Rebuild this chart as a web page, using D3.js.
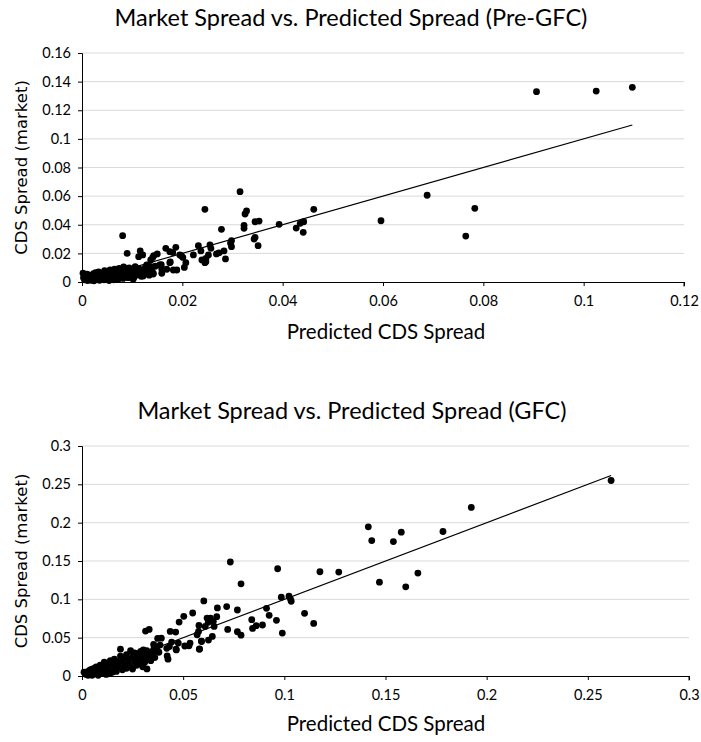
<!DOCTYPE html>
<html>
<head>
<meta charset="utf-8">
<script src="https://cdn.jsdelivr.net/npm/d3@7"></script>
<style>
  body { margin: 0; background: #fff; }
  .tick text { font-family: Lato, sans-serif; font-size: 14.5px; fill: #000; }
  .title, .xlabel { font-family: Lato, sans-serif; fill: #000; }
  .ylabel { font-family: "DejaVu Sans", sans-serif; fill: #000; }
</style>
</head>
<body>
<div id="chart"></div>
<script>
// Pre-GFC: [predicted, market]
var preGfcPoints = [
  [0.0906, 0.133], [0.1025, 0.1334], [0.1097, 0.136],
  [0.0688, 0.0606], [0.0783, 0.0515], [0.0765, 0.0321], [0.0596, 0.0428],
  [0.0462, 0.0508], [0.0442, 0.0421], [0.0435, 0.041], [0.0427, 0.0377], [0.0441, 0.0347], [0.0393, 0.0403],
  [0.0353, 0.0426], [0.0345, 0.0421], [0.0345, 0.0312], [0.0351, 0.0254], [0.0343, 0.0300],
  [0.0315, 0.0631], [0.0328, 0.0496], [0.0325, 0.0475], [0.0323, 0.0396], [0.0323, 0.0375],
  [0.0278, 0.0368], [0.0245, 0.0508],
  [0.0298, 0.0289], [0.0296, 0.0272], [0.0298, 0.0247], [0.0286, 0.0161], [0.0283, 0.0217], [0.0273, 0.0203], [0.0268, 0.0196],
  [0.0257, 0.0235], [0.0255, 0.0259], [0.0232, 0.0254], [0.0237, 0.0217], [0.0239, 0.0154], [0.0247, 0.0165], [0.0245, 0.0135], [0.0252, 0.0189], [0.0247, 0.0142],
  [0.0222, 0.0189], [0.0207, 0.0135], [0.0204, 0.0102], [0.0201, 0.0172], [0.0195, 0.0189], [0.0198, 0.0184],
  [0.0187, 0.0242], [0.0181, 0.0205], [0.0175, 0.0212], [0.0167, 0.0235], [0.0176, 0.0140], [0.0175, 0.0135],
  [0.0159, 0.0091], [0.0150, 0.0196], [0.0143, 0.0184], [0.0141, 0.0172], [0.0137, 0.0154], [0.0158, 0.0121], [0.0136, 0.0109],
  [0.0121, 0.0189], [0.0116, 0.0217], [0.0113, 0.0177], [0.0081, 0.0324], [0.0090, 0.0200], [0.0102, 0.0019],
  [0.0129, 0.0119], [0.0139, 0.0096], [0.0155, 0.0119], [0.0159, 0.0061], [0.0169, 0.0089], [0.0182, 0.0084], [0.0189, 0.0084], [0.0142, 0.0056], [0.0122, 0.0042],
  [0.0002, 0.0062], [0.0003, 0.0030], [0.0005, 0.0015], [0.0006, 0.0045], [0.0008, 0.0025], [0.0010, 0.0055], [0.0011, 0.0010], [0.0012, 0.0035],
  [0.0014, 0.0020], [0.0015, 0.0048], [0.0017, 0.0030], [0.0018, 0.0012], [0.0020, 0.0040], [0.0021, 0.0022], [0.0023, 0.0058], [0.0024, 0.0008],
  [0.0026, 0.0033], [0.0027, 0.0065], [0.0029, 0.0018], [0.0030, 0.0045], [0.0032, 0.0028], [0.0033, 0.0070], [0.0035, 0.0012], [0.0036, 0.0050],
  [0.0038, 0.0035], [0.0039, 0.0022], [0.0041, 0.0062], [0.0042, 0.0040], [0.0044, 0.0015], [0.0045, 0.0080], [0.0047, 0.0030], [0.0048, 0.0055],
  [0.0050, 0.0020], [0.0051, 0.0068], [0.0053, 0.0042], [0.0054, 0.0010], [0.0056, 0.0085], [0.0057, 0.0050], [0.0059, 0.0028], [0.0060, 0.0072],
  [0.0062, 0.0038], [0.0063, 0.0015], [0.0065, 0.0090], [0.0066, 0.0060], [0.0068, 0.0032], [0.0069, 0.0078], [0.0071, 0.0045], [0.0072, 0.0020],
  [0.0074, 0.0095], [0.0075, 0.0058], [0.0077, 0.0036], [0.0078, 0.0082], [0.0080, 0.0050], [0.0082, 0.0025], [0.0083, 0.0105], [0.0085, 0.0068],
  [0.0087, 0.0040], [0.0088, 0.0090], [0.0090, 0.0055], [0.0092, 0.0030], [0.0094, 0.0098], [0.0096, 0.0072], [0.0098, 0.0045], [0.0100, 0.0088],
  [0.0102, 0.0060], [0.0104, 0.0035], [0.0106, 0.0108], [0.0108, 0.0078], [0.0110, 0.0050], [0.0113, 0.0095], [0.0115, 0.0065], [0.0118, 0.0040],
  [0.0120, 0.0085], [0.0123, 0.0055], [0.0126, 0.0100], [0.0130, 0.0070], [0.0134, 0.0048], [0.0138, 0.0090], [0.0142, 0.0062], [0.0146, 0.0110]
];

// GFC: [predicted, market]
var gfcPoints = [
  [0.2615, 0.255], [0.1924, 0.2199], [0.1784, 0.1885], [0.1415, 0.1946], [0.1432, 0.1767], [0.1578, 0.1876], [0.1539, 0.1753],
  [0.147, 0.1224], [0.166, 0.1342], [0.16, 0.1163], [0.1269, 0.1356], [0.1176, 0.136], [0.0967, 0.1399], [0.0733, 0.1487], [0.0786, 0.1202],
  [0.0985, 0.1028], [0.1023, 0.1041], [0.1034, 0.0975], [0.103, 0.1006], [0.11, 0.0818], [0.1145, 0.0686], [0.0912, 0.0883], [0.0925, 0.0791],
  [0.0961, 0.0726], [0.099, 0.056], [0.0892, 0.0665], [0.0861, 0.0656], [0.0839, 0.0735], [0.0843, 0.0621], [0.0786, 0.0533], [0.0768, 0.0577],
  [0.0768, 0.0861], [0.0715, 0.0905], [0.072, 0.0608],
  [0.0669, 0.0888], [0.0666, 0.0774], [0.0653, 0.0647], [0.0644, 0.0516], [0.0649, 0.0713], [0.0635, 0.0756], [0.0618, 0.0756], [0.0624, 0.07],
  [0.0609, 0.0647], [0.0602, 0.0979], [0.0578, 0.066], [0.0576, 0.0582], [0.0591, 0.045], [0.0569, 0.0538], [0.058, 0.035], [0.0547, 0.0822],
  [0.0534, 0.0429], [0.0529, 0.0394], [0.0503, 0.0778], [0.048, 0.0704], [0.0476, 0.0429], [0.0465, 0.035], [0.0463, 0.0573], [0.0436, 0.0582],
  [0.0443, 0.0442], [0.0432, 0.0385], [0.0421, 0.0262], [0.0425, 0.0219], [0.0392, 0.0494], [0.0374, 0.049], [0.037, 0.0376], [0.0354, 0.0411],
  [0.0343, 0.0275], [0.0332, 0.0608], [0.0314, 0.0586], [0.0321, 0.0092], [0.0303, 0.0341], [0.0294, 0.0275], [0.0281, 0.024],
  [0.0625, 0.0469], [0.0590, 0.0456], [0.0581, 0.0352], [0.0508, 0.0391], [0.0466, 0.034], [0.0386, 0.0404], [0.0353, 0.0339], [0.0419, 0.0361],
  [0.001, 0.005], [0.002, 0.002], [0.003, 0.006], [0.004, 0.003], [0.005, 0.009], [0.005, 0.001], [0.006, 0.005], [0.007, 0.012],
  [0.007, 0.003], [0.008, 0.008], [0.009, 0.004], [0.009, 0.014], [0.010, 0.010], [0.011, 0.006], [0.011, 0.018], [0.012, 0.002],
  [0.012, 0.013], [0.013, 0.008], [0.014, 0.020], [0.014, 0.004], [0.015, 0.015], [0.016, 0.010], [0.016, 0.022], [0.017, 0.006],
  [0.018, 0.017], [0.018, 0.012], [0.019, 0.035], [0.019, 0.026], [0.020, 0.008], [0.020, 0.020], [0.021, 0.014], [0.022, 0.028],
  [0.022, 0.010], [0.023, 0.022], [0.023, 0.017], [0.024, 0.033], [0.024, 0.012], [0.025, 0.025], [0.026, 0.019], [0.026, 0.030],
  [0.027, 0.014], [0.027, 0.024], [0.028, 0.020], [0.029, 0.032], [0.029, 0.016], [0.030, 0.027], [0.031, 0.022], [0.031, 0.018],
  [0.032, 0.033], [0.033, 0.026], [0.034, 0.020], [0.035, 0.030], [0.036, 0.024], [0.038, 0.031],
  [0.003, 0.001], [0.004, 0.008], [0.006, 0.010], [0.008, 0.001], [0.010, 0.003], [0.013, 0.016], [0.015, 0.005], [0.017, 0.019],
  [0.021, 0.024], [0.025, 0.009], [0.028, 0.029], [0.030, 0.012]
];

var preGfcXTicks = [0, 0.02, 0.04, 0.06, 0.08, 0.1, 0.12];
var preGfcYTicks = [0, 0.02, 0.04, 0.06, 0.08, 0.1, 0.12, 0.14, 0.16];
var gfcXTicks = [0, 0.05, 0.1, 0.15, 0.2, 0.25, 0.3];
var gfcYTicks = [0, 0.05, 0.1, 0.15, 0.2, 0.25, 0.3];

var svg = d3.select('#chart').append('svg')
  .attr('width', 701)
  .attr('height', 742);

function drawChart(cfg) {
  var x = d3.scaleLinear()
    .domain([0, d3.max(cfg.xTicks)])
    .range([cfg.left, cfg.right]);
  var y = d3.scaleLinear()
    .domain([0, d3.max(cfg.yTicks)])
    .range([cfg.bottom, cfg.top]);
  var g = svg.append('g');

  // gridlines
  g.selectAll('line.grid')
    .data(cfg.yTicks.slice(1))
    .enter().append('line')
    .attr('class', 'grid')
    .attr('x1', cfg.left)
    .attr('x2', cfg.right)
    .attr('y1', function (d) { return y(d); })
    .attr('y2', function (d) { return y(d); })
    .style('stroke', '#d9d9d9')
    .style('stroke-width', 1);

  var yAxis = g.append('g')
    .attr('transform', 'translate(' + cfg.left + ',0)')
    .call(d3.axisLeft(y).tickValues(cfg.yTicks).tickSize(4).tickPadding(7)
      .tickFormat(function (d) { return String(d); }));
  var xAxis = g.append('g')
    .attr('transform', 'translate(0,' + cfg.bottom + ')')
    .call(d3.axisBottom(x).tickValues(cfg.xTicks).tickSize(4).tickPadding(10)
      .tickFormat(function (d) { return String(d); }));
  [xAxis, yAxis].forEach(function (a) {
    a.select('.domain').style('stroke', '#000');
    a.selectAll('.tick line').style('stroke', '#000');
  });
  xAxis.select('.domain').attr('d', 'M' + cfg.left + ',0.5H' + cfg.right + 'V4.5');

  // 45 degree reference line
  var lo = d3.min(cfg.points, function (d) { return d[0]; });
  var hi = d3.max(cfg.points, function (d) { return d[0]; });
  g.append('line')
    .attr('x1', x(lo)).attr('y1', y(lo))
    .attr('x2', x(hi)).attr('y2', y(hi))
    .style('stroke', '#000')
    .style('stroke-width', 1.2);

  g.selectAll('circle')
    .data(cfg.points)
    .enter().append('circle')
    .attr('cx', function (d) { return x(d[0]); })
    .attr('cy', function (d) { return y(d[1]); })
    .attr('r', 3.4)
    .style('fill', '#000');

  g.append('text')
    .attr('class', 'title')
    .attr('x', cfg.titleX)
    .attr('y', cfg.titleY)
    .attr('text-anchor', 'middle')
    .style('font-size', '23.5px')
    .text(cfg.title);
  g.append('text')
    .attr('class', 'xlabel')
    .attr('x', 386)
    .attr('y', cfg.xLabelY)
    .attr('text-anchor', 'middle')
    .style('font-size', '20.5px')
    .text('Predicted CDS Spread');
  g.append('text')
    .attr('class', 'ylabel')
    .attr('transform', 'translate(27,' + ((cfg.top + cfg.bottom) / 2) + ') rotate(-90)')
    .attr('text-anchor', 'middle')
    .style('font-size', '16.5px')
    .text('CDS Spread (market)');
}

drawChart({
  points: preGfcPoints, xTicks: preGfcXTicks, yTicks: preGfcYTicks,
  left: 82, right: 684, top: 53, bottom: 282,
  title: 'Market Spread vs. Predicted Spread (Pre-GFC)', titleX: 351, titleY: 26, xLabelY: 339
});
drawChart({
  points: gfcPoints, xTicks: gfcXTicks, yTicks: gfcYTicks,
  left: 82, right: 689, top: 446, bottom: 676,
  title: 'Market Spread vs. Predicted Spread (GFC)', titleX: 352, titleY: 419, xLabelY: 731
});
</script>
</body>
</html>
